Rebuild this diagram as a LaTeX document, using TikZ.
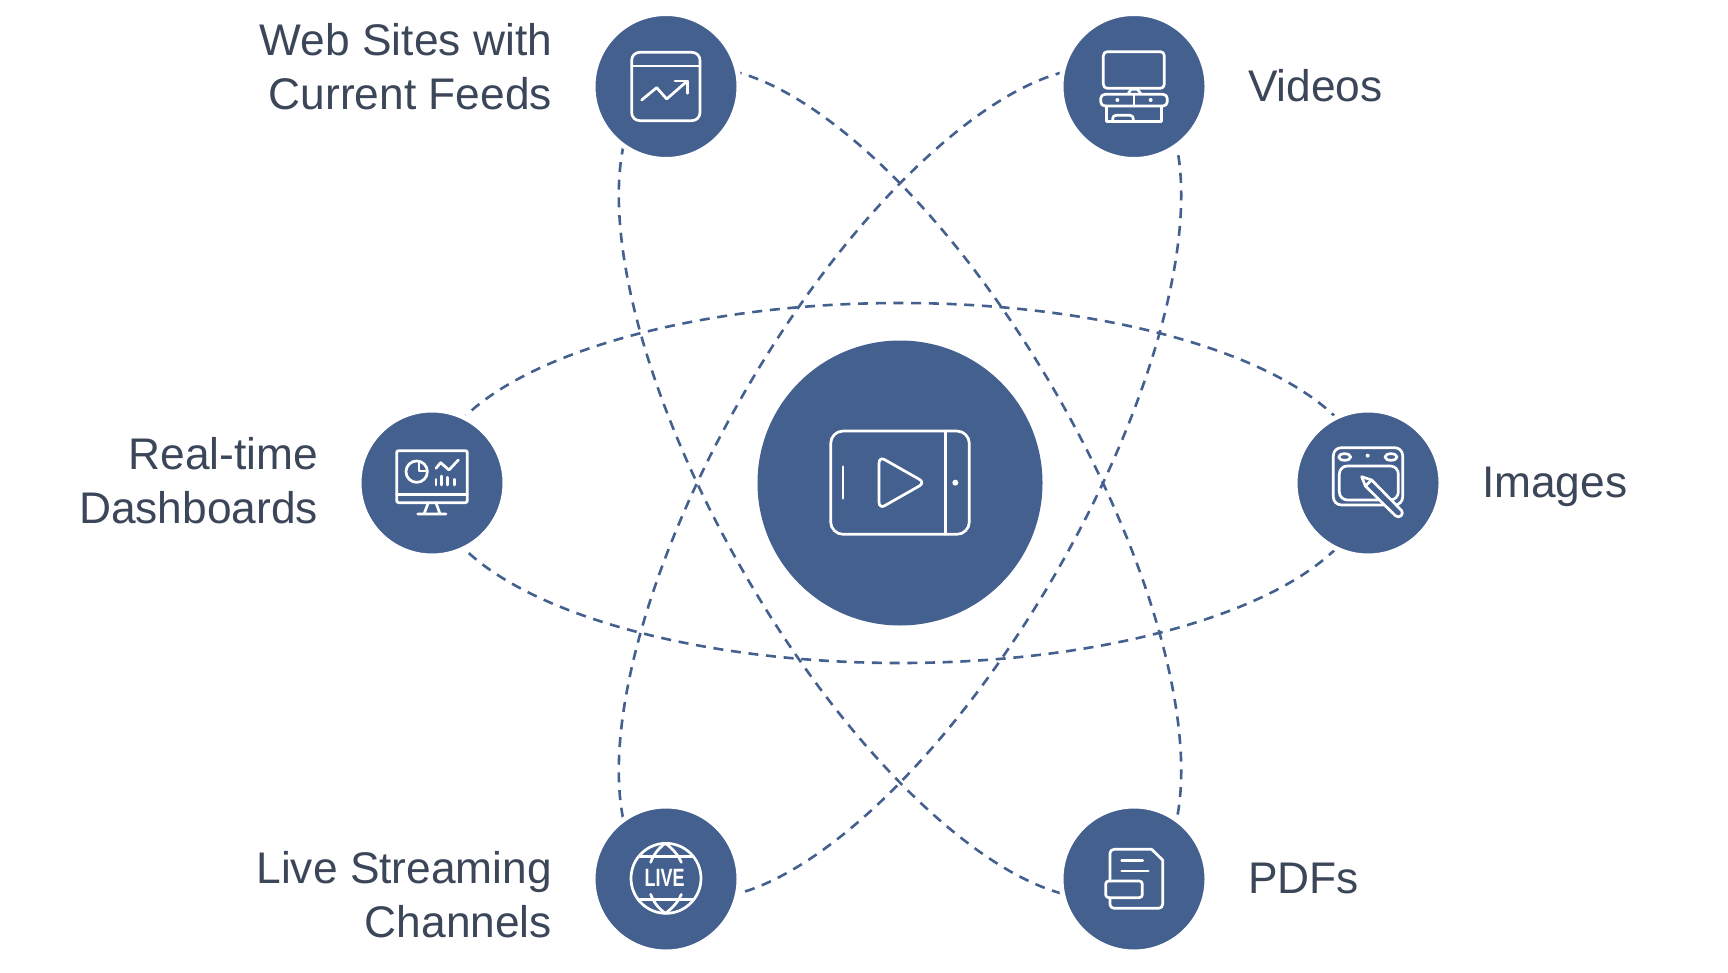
\documentclass[tikz,border=0pt]{standalone}
\usepackage{fontspec}
\setmainfont{Liberation Sans}
\definecolor{blu}{HTML}{44608F}
\definecolor{txt}{HTML}{3C4659}
\tikzset{
  x=1pt,y=-1pt,
  orbit/.style={blu,line width=2.6pt,dash pattern=on 10pt off 7.7pt},
  hub/.style={circle,fill=blu,draw=white,line width=5pt,minimum size=146pt,inner sep=0,outer sep=0},
  corehub/.style={circle,fill=blu,minimum size=285pt,inner sep=0,outer sep=0},
  ico/.style={white,line width=2.7pt,line cap=round,line join=round},
  lab/.style={text=txt,font=\fontsize{44.3}{54}\selectfont,inner sep=0,outer sep=0},
}
\begin{document}
\begin{tikzpicture}
\useasboundingbox[fill=white] (0,0) rectangle (1728,973);
\draw[orbit] (900,483) ellipse [x radius=468pt,y radius=180pt];
\draw[orbit,rotate around={60:(900,483)}] (900,483) ellipse [x radius=468pt,y radius=180pt];
\draw[orbit,rotate around={-60:(900,483)}] (900,483) ellipse [x radius=468pt,y radius=180pt];
\node[corehub] (core) at (900,483) {};
\node[hub] (web) at (666,86.5) {};
\node[hub] (vid) at (1134,86.5) {};
\node[hub] (dash) at (432,483) {};
\node[hub] (img) at (1368,483) {};
\node[hub] (live) at (666,879) {};
\node[hub] (pdf) at (1134,879) {};
\node[lab,align=right,anchor=east] (lweb) at (552,67) {Web Sites with\\Current Feeds};
\node[lab,anchor=base west] (lvid) at (1248,102) {Videos};
\node[lab,align=right,anchor=east] (ldash) at (318,481) {Real-time\\Dashboards};
\node[lab,anchor=base west] (limg) at (1482,497) {Images};
\node[lab,align=right,anchor=east] (llive) at (552,895) {Live Streaming\\Channels};
\node[lab,anchor=base west] (lpdf) at (1248,893) {PDFs};
% centre icon
\begin{scope}[shift={(800,400)},x=0.3333pt,y=-0.3333pt,ico]
\draw[rounded corners=12.5pt] (92,93) rectangle (508,403);
\draw (436,93) -- (436,403);
\fill[white] (466,248) circle [radius=3pt];
\draw (129,200) -- (129,295);
\draw (237,190) .. controls (237,176) and (246,174) .. (254,179) -- (358,238) .. controls (368,244) and (368,252) .. (358,258) -- (254,317) .. controls (246,322) and (237,320) .. (237,306) -- cycle;
\end{scope}
% web icon
\begin{scope}[shift={(580,0)},x=0.3333pt,y=-0.3333pt,ico]
\draw[rounded corners=8pt] (155,157) rectangle (360,362);
\draw (155,198) -- (360,198);
\draw (185,300) -- (230,263) -- (260,297) -- (322,243);
\draw (285,243) -- (322,243) -- (322,280);
\end{scope}
% video icon
\begin{scope}[shift={(1050,0)},x=0.3333pt,y=-0.3333pt,ico]
\draw[rounded corners=4pt] (160,155) rectangle (343,265);
\draw (235,280) -- (243,268) -- (262,268) -- (272,280);
\draw[rounded corners=4.3pt] (152,283) rectangle (352,318);
\draw (252,283) -- (252,318);
\fill[white] (202,300) circle [radius=2pt];
\fill[white] (302,300) circle [radius=2pt];
\draw (170,318) -- (170,365) -- (335,365) -- (335,318);
\draw[rounded corners=3.3pt] (188,365) -- (188,346) -- (250,346) -- (250,365);
\end{scope}
% dashboard icon
\begin{scope}[shift={(350,400)},x=0.3333pt,y=-0.3333pt,ico]
\draw[rounded corners=2pt] (140,152) rectangle (352,308);
\draw (140,283) -- (352,283);
\draw (235,308) -- (222,342) (258,308) -- (270,342) (203,342) -- (288,342);
\draw (200,215) circle [radius=10.7pt];
\draw (207,190) -- (207,213) -- (232,213);
\draw (258,205) -- (272,188) -- (297,210) -- (325,180);
\draw (258,238) -- (258,255) (275,228) -- (275,255) (293,232) -- (293,255) (313,238) -- (313,255);
\end{scope}
% tablet icon
\begin{scope}[shift={(1290,400)},x=0.3333pt,y=-0.3333pt,ico]
\draw[rounded corners=8pt] (130,143) rectangle (338,315);
\draw[rounded corners=8pt] (148,198) rectangle (325,300);
\draw (164,171) ellipse [x radius=6pt,y radius=3.3pt];
\draw (303,171) ellipse [x radius=6pt,y radius=3.3pt];
\fill[white] (233,167) circle [radius=2pt];
\draw[fill=blu] (215,230) -- (245,240) -- (335,332) .. controls (343,342) and (328,358) .. (316,347) -- (226,258) -- cycle;
\draw (226,258) -- (245,240);
\end{scope}
% live icon
\begin{scope}[shift={(585,800)},x=0.3333pt,y=-0.3333pt,ico]
\draw (243,235) circle [radius=35pt];
\draw (163,170) -- (323,170) (163,298) -- (323,298);
\draw (197,187) .. controls (205,165) and (220,145) .. (241,130) .. controls (262,145) and (280,165) .. (289,187);
\draw (197,283) .. controls (205,305) and (220,325) .. (241,340) .. controls (262,325) and (280,305) .. (289,283);
\node[text=white,font=\bfseries\fontsize{25}{25}\selectfont,xscale=0.72,inner sep=0] (livetxt) at (239,235) {LIVE};
\end{scope}
% pdf icon
\begin{scope}[shift={(1055,800)},x=0.3333pt,y=-0.3333pt,ico]
\draw[rounded corners=4pt] (165,243) -- (165,148) -- (290,148);
\draw (290,148) -- (323,180);
\draw[rounded corners=4pt] (323,180) -- (323,325) -- (165,325) -- (165,293);
\draw (200,182) -- (263,182) (200,213) -- (280,213);
\draw[rounded corners=3pt] (152,243) rectangle (262,293);
\end{scope}
\end{tikzpicture}
\end{document}
